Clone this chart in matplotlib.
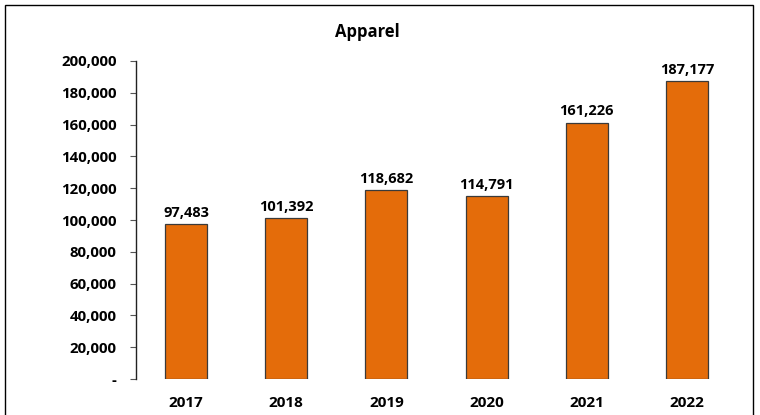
import matplotlib.pyplot as plt
from matplotlib.patches import Rectangle
from matplotlib.ticker import FuncFormatter

plt.rcParams['font.family'] = ['Open Sans', 'DejaVu Sans']

years = ['2017', '2018', '2019', '2020', '2021', '2022']
values = [97483, 101392, 118682, 114791, 161226, 187177]

fig = plt.figure(figsize=(7.6, 4.15), dpi=100)
ax = fig.add_axes([136 / 760, 1 - 379 / 415, (737 - 136) / 760, (379 - 61) / 415])

x = range(len(years))
bars = ax.bar(x, values, width=0.42, color='#E46C0A', edgecolor='#3a3a3a', linewidth=0.9)

for b, v in zip(bars, values):
    ax.annotate(f'{v:,}', (b.get_x() + b.get_width() / 2, v), xytext=(0, 3),
                textcoords='offset points', ha='center', va='bottom',
                fontsize=10.5, fontweight='bold')

ax.set_xlim(-0.5, len(years) - 0.5)
ax.set_ylim(0, 200000)
ax.set_yticks(range(0, 200001, 20000))
ax.yaxis.set_major_formatter(FuncFormatter(lambda v, p: '-' if v == 0 else f'{int(v):,}'))
ax.set_xticks(list(x))
ax.set_xticklabels(years)

for s in ['top', 'right', 'bottom']:
    ax.spines[s].set_visible(False)
ax.spines['left'].set_color('#222222')
ax.spines['left'].set_linewidth(1.0)
ax.tick_params(axis='y', length=4, width=0.8, color='#555555', labelsize=10.8, pad=10)
ax.tick_params(axis='x', length=0, labelsize=11, pad=12)
for lab in ax.get_xticklabels() + ax.get_yticklabels():
    lab.set_fontweight('bold')

fig.text(367 / 760, 1 - 32 / 415, 'Apparel', ha='center', va='center',
         fontsize=12, fontweight='bold')

fig.patches.append(Rectangle((5 / 760, -0.1), 748 / 760, 1.1 - 5 / 415,
                             transform=fig.transFigure, fill=False,
                             edgecolor='black', linewidth=1.0))

fig.savefig('out.png', dpi=100)
